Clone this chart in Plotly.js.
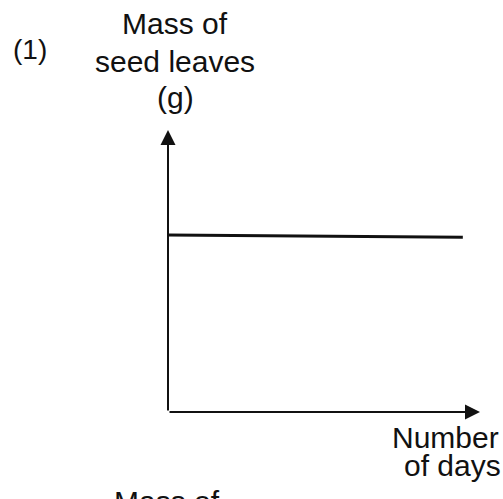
<!DOCTYPE html>
<html>
<head>
<meta charset="utf-8">
<script src="https://cdn.plot.ly/plotly-3.0.1.min.js"></script>
<style>html,body{margin:0;padding:0;background:#fff;}#chart{width:503px;height:499px;}</style>
</head>
<body>
<div id="chart"></div>
<script>
// Data (arbitrary units; a sketch graph)
var days = [0, 9.45];
var seedLeafMass = [6.28, 6.2];
var axisMax = [10, 10];
var yTitleLines = ["Mass of", "seed leaves", "(g)"];
var xTitleLines = ["Number", "of days"];
var panelLabel = "(1)";
var nextPanelTitle = "Mass of";

var W = 503, H = 499;
var fontFam = "Liberation Sans, Arial, sans-serif";
var fsz = 30;
function px(x){return x / W;}
function py(y){return 1 - y / H;}

var trace = {
  x: days, y: seedLeafMass, mode: 'lines', type: 'scatter',
  line: {color: '#111', width: 3}, hoverinfo: 'skip', showlegend: false
};

var ann = [];
// axes as arrows
ann.push({x: 0, y: axisMax[1], ax: 0, ay: 0, xref: 'x', yref: 'y', axref: 'x', ayref: 'y',
  showarrow: true, arrowhead: 2, arrowsize: 1.5, arrowwidth: 2, arrowcolor: '#111', standoff: 0, startstandoff: 0, text: ''});
ann.push({x: axisMax[0], y: 0, ax: 0, ay: 0, xref: 'x', yref: 'y', axref: 'x', ayref: 'y',
  showarrow: true, arrowhead: 2, arrowsize: 1.5, arrowwidth: 2, arrowcolor: '#111', standoff: 0, startstandoff: 0, text: ''});

function txt(t, x, y, s){
  ann.push({text: t, x: px(x), y: py(y), xref: 'paper', yref: 'paper', showarrow: false,
    xanchor: 'center', yanchor: 'middle', font: {family: fontFam, size: s || fsz, color: '#111'}});
}
txt(panelLabel, 30, 50, 28);
txt(yTitleLines[0], 175, 23);
txt(yTitleLines[1], 175, 61);
txt(yTitleLines[2], 175, 98);
txt(xTitleLines[0], 445, 437);
txt(xTitleLines[1], 452, 465);
txt(nextPanelTitle, 167, 501);

var layout = {
  width: W, height: H, margin: {l: 0, r: 0, t: 0, b: 0},
  paper_bgcolor: '#fff', plot_bgcolor: '#fff', showlegend: false,
  xaxis: {domain: [px(168), px(480)], range: [0, axisMax[0]], visible: false, fixedrange: true},
  yaxis: {domain: [py(412), py(130)], range: [0, axisMax[1]], visible: false, fixedrange: true},
  annotations: ann
};
Plotly.newPlot('chart', [trace], layout, {staticPlot: true, displayModeBar: false});
</script>
</body>
</html>
